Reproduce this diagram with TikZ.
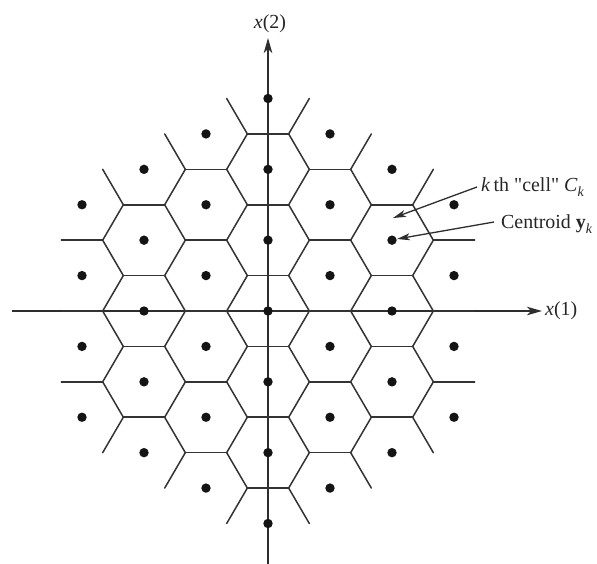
\documentclass[tikz,border=0pt]{standalone}
\usepackage{amsmath}
\usepackage{fontspec}
\setmainfont{Liberation Serif}
% same face without the TeX character mapping, for straight quote marks
\newfontfamily\rawserif{Liberation Serif}
\usetikzlibrary{arrows.meta}
\newcommand{\lowsub}[1]{\raisebox{-5bp}{\fontsize{14}{14}\selectfont\textit{#1}}}
\newcommand{\straightq}{{\rawserif\symbol{34}}}
\begin{document}
\begin{tikzpicture}[x=1bp,y=-1bp,
  celledge/.style={line width=1.5bp, draw=black!80, line cap=round},
  centroid/.style={fill=black!92},
  axis/.style={line width=1.5bp, draw=black!82,
    -{Stealth[length=15bp,width=8.5bp,inset=4bp]}},
  pointer/.style={line width=1.3bp, draw=black!82,
    -{Stealth[length=13bp,width=7bp,inset=3.5bp]}},
  lbl/.style={font=\fontsize{20}{24}\selectfont, inner sep=0pt, text=black!85}
]
\useasboundingbox[fill=white] (0,0) rectangle (597,564);

% lattice geometry (flat-topped hexagons)
\def\cx{268}\def\cy{311}
\def\dx{62}\def\dy{70.83}
\def\rx{41.33}\def\hx{20.67}\def\hy{35.42}

% coordinate axes
\coordinate (x1from) at (12,311);
\coordinate (x1to)   at (542,311);
\coordinate (x2from) at (268,564);
\coordinate (x2to)   at (268,38);
\draw[axis] (x1from) -- (x1to);
\draw[axis] (x2from) -- (x2to);
\node[lbl, anchor=west] (x1lbl) at (545,311) {\textit{x}(1)};
\node[lbl] (x2lbl) at (270,24) {\textit{x}(2)};

% Voronoi cells of all lattice points within hex distance 3:
% an edge is drawn whenever both neighbouring points belong to the set
\foreach \i in {-3,...,3}{
  \foreach \j in {-3,...,3}{
    \pgfmathtruncatemacro{\d}{(abs(\i)+abs(\j)+abs((\i)+(\j)))/2}
    \ifnum\d<4
      \pgfmathsetmacro{\px}{\cx+\dx*(\i)}
      \pgfmathsetmacro{\py}{\cy-\dy*((\j)+(\i)/2)}
      % neighbour straight above
      \pgfmathtruncatemacro{\da}{(abs(\i)+abs((\j)+1)+abs((\i)+(\j)+1))/2}
      \ifnum\da<4
        \draw[celledge] (\px-\hx,\py-\hy) -- (\px+\hx,\py-\hy);
      \fi
      % neighbour up and to the right
      \pgfmathtruncatemacro{\db}{(abs((\i)+1)+abs(\j)+abs((\i)+(\j)+1))/2}
      \ifnum\db<4
        \draw[celledge] (\px+\rx,\py) -- (\px+\hx,\py-\hy);
      \fi
      % neighbour down and to the right
      \pgfmathtruncatemacro{\dc}{(abs((\i)+1)+abs((\j)-1)+abs((\i)+(\j)))/2}
      \ifnum\dc<4
        \draw[celledge] (\px+\rx,\py) -- (\px+\hx,\py+\hy);
      \fi
    \fi
  }
}
% centroids
\foreach \i in {-3,...,3}{
  \foreach \j in {-3,...,3}{
    \pgfmathtruncatemacro{\d}{(abs(\i)+abs(\j)+abs((\i)+(\j)))/2}
    \ifnum\d<4
      \fill[centroid] ({\cx+\dx*(\i)},{\cy-\dy*((\j)+(\i)/2)}) circle[radius=4.7];
    \fi
  }
}

% annotations
\node[lbl, anchor=base west] (celllbl) at (481,191)
  {\textit{k}\,th \straightq cell\straightq{} \textit{C}\lowsub{k}};
\node[lbl, anchor=base west] (centlbl) at (501,228)
  {Centroid \textbf{y}\lowsub{k}};
\coordinate (cellfrom) at (477,187);
\coordinate (celltip)  at (393,218);
\coordinate (centfrom) at (494,222);
\coordinate (centtip)  at (397,239);
\draw[pointer] (cellfrom) -- (celltip);
\draw[pointer] (centfrom) -- (centtip);
\end{tikzpicture}
\end{document}
